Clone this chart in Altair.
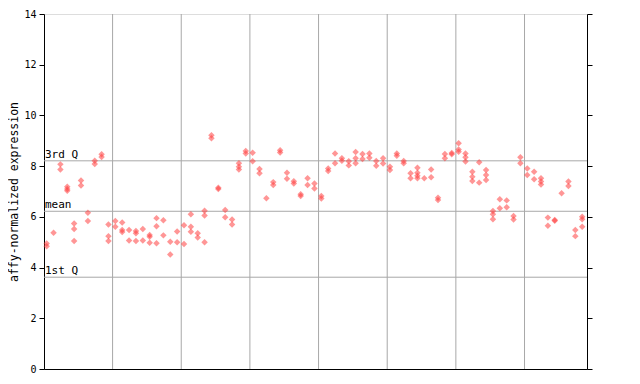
import altair as alt
import pandas as pd

# sample column index (0..78) and expression values
sample_idx = [
    0, 0, 1, 2, 2, 3, 3, 3, 4, 4, 4, 5, 5, 6, 6, 7, 7, 8, 8,
    9, 9, 9, 10, 10, 11, 11, 11, 12, 12, 13, 13, 13, 14, 14, 15, 15, 15,
    16, 16, 16, 17, 17, 18, 18, 19, 19,
    20, 20, 21, 21, 21, 22, 22, 23, 23, 23, 24, 24, 25, 25, 26, 26, 27, 27,
    28, 28, 28, 29, 29, 30, 30, 31, 31, 32, 33, 33, 34, 34, 35, 35, 36, 36,
    37, 37, 38, 38, 39, 39,
    40, 40, 41, 41, 42, 42, 43, 43, 44, 44, 45, 45, 45, 46, 46, 47, 47,
    48, 48, 49, 49, 50, 50, 51, 51, 52, 52, 53, 53, 54, 54, 54, 54, 55,
    56, 56, 57, 57, 58, 58, 59, 59,
    60, 60, 60, 61, 61, 61, 62, 62, 62, 63, 63, 64, 64, 64, 65, 65, 65,
    66, 66, 67, 67, 68, 68, 69, 69, 70, 70, 71, 71, 72, 72, 72, 73, 73,
    74, 74, 75, 76, 76, 77, 77, 78, 78, 78,
]
expression = [
    4.95, 4.84, 5.37, 8.07, 7.87, 7.19, 7.1, 7.03, 5.74, 5.52, 5.05, 7.43, 7.24, 6.16, 5.84, 8.21, 8.08, 8.47, 8.36,
    5.70, 5.24, 5.05, 5.84, 5.61, 5.78, 5.48, 5.40, 5.48, 5.07, 5.44, 5.35, 5.05, 5.52, 5.07, 5.28, 5.22, 4.98,
    5.95, 5.63, 4.96, 5.87, 5.27, 5.02, 4.52, 5.42, 5.0,
    5.67, 4.93, 6.10, 5.61, 5.41, 5.35, 5.19, 6.24, 6.05, 5.0, 9.22, 9.1, 7.15, 7.1, 6.27, 5.98, 5.90, 5.70,
    8.11, 7.98, 7.87, 8.5, 8.6, 8.53, 8.19, 7.89, 7.72, 6.73, 7.26, 7.37, 8.54, 8.63, 7.74, 7.50, 7.32, 7.40,
    6.82, 6.89, 7.52, 7.26, 7.32, 7.12,
    6.82, 6.72, 7.91, 7.81, 8.5, 8.11, 8.31, 8.21, 8.19, 8.03, 8.56, 8.31, 8.11, 8.48, 8.28, 8.5, 8.33,
    8.2, 8.02, 8.31, 8.1, 7.98, 7.85, 8.5, 8.41, 8.2, 8.11, 7.72, 7.52, 7.94, 7.74, 7.62, 7.52, 7.52,
    7.87, 7.56, 6.75, 6.66, 8.48, 8.31, 8.52, 8.47,
    8.9, 8.66, 8.57, 8.5, 8.35, 8.18, 7.78, 7.58, 7.41, 8.15, 7.35, 7.85, 7.65, 7.45, 6.23, 6.10, 5.91,
    6.69, 6.34, 6.65, 6.38, 6.03, 5.90, 8.35, 8.11, 7.91, 7.65, 7.78, 7.48, 7.52, 7.39, 7.28, 5.97, 5.65,
    5.88, 5.85, 6.93, 7.39, 7.22, 5.48, 5.24, 6.0, 5.91, 5.61,
]

group_bounds = [9.6, 19.6, 29.6, 39.6, 49.6, 59.6, 69.6]
stat_names = ["1st Q", "mean", "3rd Q"]
stat_values = [3.62, 6.22, 8.21]
y_ticks = [0, 2, 4, 6, 8, 10, 12, 14]

points = pd.DataFrame({"idx": sample_idx, "val": expression})
bounds = pd.DataFrame({"b": group_bounds})
stats = pd.DataFrame({"name": stat_names, "v": stat_values})

FONT = "DejaVu Sans Mono"
xscale = alt.Scale(domain=[-0.39, 78.7], nice=False, zero=False)
yscale = alt.Scale(domain=[0, 14], nice=False, zero=True)

xaxis = alt.Axis(labels=False, ticks=False, grid=False, title=None,
                 domainColor="black", domainWidth=1)
yaxis = alt.Axis(values=y_ticks, grid=False, title="affy-normalized expression",
                 tickSize=5, tickColor="black", domainColor="black",
                 labelFont=FONT, labelFontSize=10, labelColor="black", labelPadding=3,
                 titleFont=FONT, titleFontSize=11.5, titleFontWeight="normal",
                 titleColor="black", titlePadding=4)
yaxis_r = alt.Axis(values=y_ticks, grid=False, title=None, labels=False,
                   orient="right", tickSize=5, tickColor="black", domainColor="black")

vrules = alt.Chart(bounds).mark_rule(color="#a8a8a8", strokeWidth=1).encode(
    x=alt.X("b:Q", scale=xscale, axis=xaxis)
)

hrules = alt.Chart(stats).mark_rule(color="#a8a8a8", strokeWidth=1).encode(
    y=alt.Y("v:Q", scale=yscale, axis=yaxis)
)

labels = alt.Chart(stats).mark_text(
    align="left", baseline="bottom", font=FONT, fontSize=11, color="black", dx=1, dy=-1
).encode(
    x=alt.value(0),
    y=alt.Y("v:Q", scale=yscale, axis=None),
    text="name:N",
)

dots = alt.Chart(points).mark_point(
    shape="diamond", filled=True, size=42, color="#ff4040", opacity=0.55
).encode(
    x=alt.X("idx:Q", scale=xscale, axis=xaxis),
    y=alt.Y("val:Q", scale=yscale, axis=yaxis_r),
)

chart = alt.layer(vrules, hrules, labels, dots).resolve_axis(y="independent").properties(
    width=543,
    height=355,
    padding={"left": 36, "top": 6, "right": 30, "bottom": 10},
    autosize=alt.AutoSizeParams(type="none"),
).configure_view(stroke=None).configure(background="white")

chart.save("out.html", embed_options={"renderer": "svg", "actions": False})
